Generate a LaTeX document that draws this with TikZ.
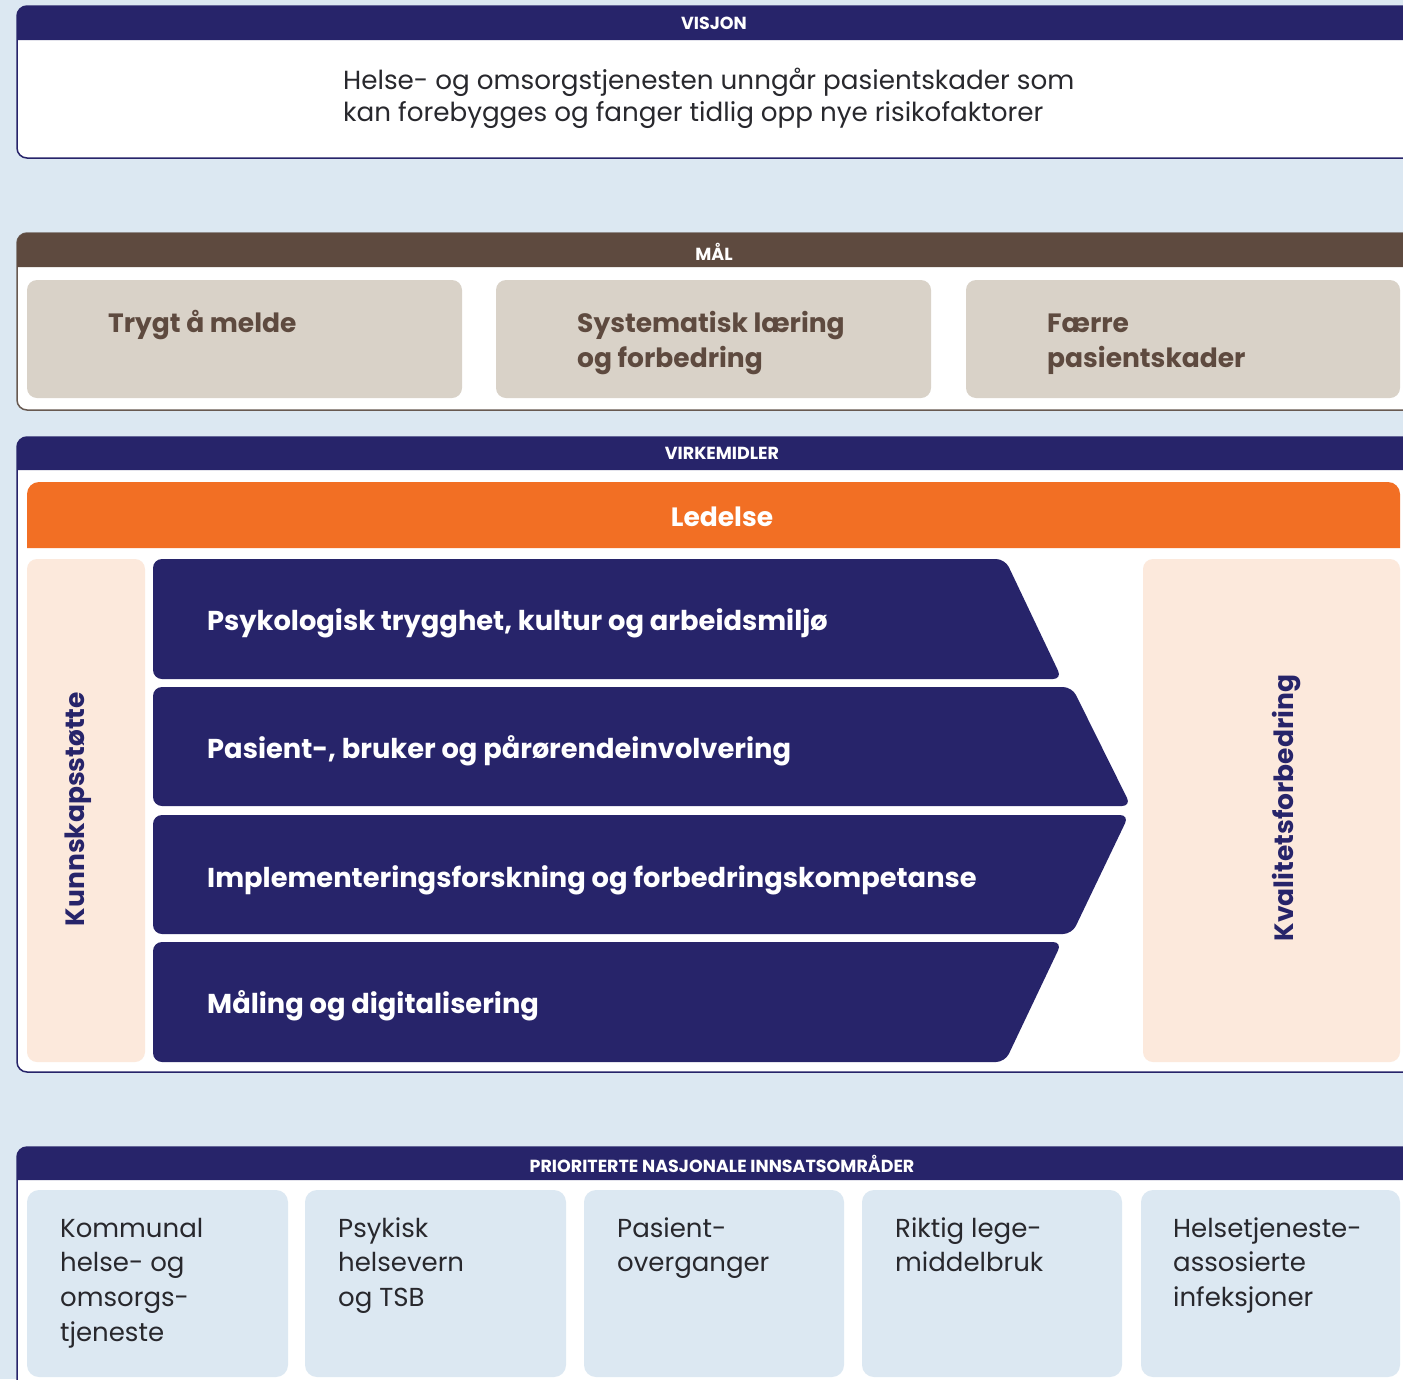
\documentclass[tikz,border=0pt]{standalone}
\usepackage{fontspec}
\setmainfont{Poppins}
\definecolor{bgblue}{RGB}{220,232,242}
\definecolor{navy}{RGB}{39,36,106}
\definecolor{brownhd}{RGB}{94,74,63}
\definecolor{beige}{RGB}{217,210,200}
\definecolor{orangebar}{RGB}{242,111,36}
\definecolor{peach}{RGB}{252,233,220}
\definecolor{bodytext}{RGB}{40,40,45}
\begin{document}
\begin{tikzpicture}[x=1pt,y=-1pt,
  panelbody/.style={fill=white,draw=navy,line width=1.5pt,rounded corners=10pt},
  hdrtext/.style={text=white,font=\fontsize{17.5}{17.5}\selectfont\bfseries,inner sep=0pt},
  maltext/.style={text=brownhd,font=\fontsize{26.5}{26.5}\selectfont\bfseries,anchor=mid west,inner sep=0pt},
  arrowshape/.style={fill=navy,rounded corners=9pt},
  arrowtext/.style={text=white,font=\fontsize{27.3}{27.3}\selectfont\bfseries,anchor=mid west,inner sep=0pt},
  pillartext/.style={text=navy,font=\fontsize{26.5}{26.5}\selectfont\bfseries,rotate=90,inner sep=0pt},
  prtext/.style={text=bodytext,font=\fontsize{26}{26}\selectfont,anchor=mid west,inner sep=0pt},
  vistext/.style={text=bodytext,font=\fontsize{26.2}{26.2}\selectfont,anchor=mid west,inner sep=0pt}]
\useasboundingbox (0,0) rectangle (1403,1379);
\clip (0,0) rectangle (1403,1379);
\fill[bgblue] (0,0) rectangle (1403,1379);

% ---------- VISJON ----------
\draw[panelbody] (17,6) rectangle (1440,158);
\fill[navy] (17,40) [rounded corners=10pt]-- (17,6) -- (1440,6) [sharp corners]-- (1440,40) -- cycle;
\node[hdrtext] (visjonhd) at (714,23) {VISJON};
\node[vistext] (vis1) at (343,87) {Helse- og omsorgstjenesten unngår pasientskader som};
\node[vistext] (vis2) at (343,119) {kan forebygges og fanger tidlig opp nye risikofaktorer};

% ---------- MÅL ----------
\draw[panelbody,draw=brownhd!70!gray] (17,233) rectangle (1440,410);
\fill[brownhd] (17,267) [rounded corners=10pt]-- (17,233) -- (1440,233) [sharp corners]-- (1440,267) -- cycle;
\node[hdrtext] (malhd) at (714,252) {MÅL};
\fill[beige,rounded corners=10pt] (27,280) rectangle (462,398);
\fill[beige,rounded corners=10pt] (496,280) rectangle (931,398);
\fill[beige,rounded corners=10pt] (966,280) rectangle (1400,398);
\node[maltext] (mal1) at (108,330) {Trygt å melde};
\node[maltext] (mal2a) at (577,330) {Systematisk læring};
\node[maltext] (mal2b) at (577,365) {og forbedring};
\node[maltext] (mal3a) at (1047,330) {Færre};
\node[maltext] (mal3b) at (1047,365) {pasientskader};

% ---------- VIRKEMIDLER ----------
\draw[panelbody] (17,437) rectangle (1440,1072);
\fill[navy] (17,470) [rounded corners=10pt]-- (17,437) -- (1440,437) [sharp corners]-- (1440,470) -- cycle;
\node[hdrtext] (virkhd) at (722,453) {VIRKEMIDLER};
\fill[orangebar] (27,548) [rounded corners=12pt]-- (27,482) -- (1400,482) [sharp corners]-- (1400,548) -- cycle;
\node[text=white,font=\fontsize{26.5}{26.5}\selectfont\bfseries,inner sep=0pt] (ledelse) at (722,517) {Ledelse};
\fill[peach,rounded corners=10pt] (27,559) rectangle (145,1062);
\fill[peach,rounded corners=10pt] (1143,559) rectangle (1400,1062);
\node[pillartext] (kunn) at (78,809) {Kunnskapsstøtte};
\node[pillartext] (kval) at (1287,808) {Kvalitetsforbedring};

\fill[arrowshape] (153,559) -- (1005,559) -- (1062,679) -- (153,679) -- cycle;
\fill[arrowshape] (153,687) -- (1072,687) -- (1131,806) -- (153,806) -- cycle;
\fill[arrowshape] (153,815) -- (1129,815) -- (1072,934) -- (153,934) -- cycle;
\fill[arrowshape] (153,942) -- (1062,942) -- (1005,1062) -- (153,1062) -- cycle;
\node[arrowtext] (arr1) at (207,628) {Psykologisk trygghet, kultur og arbeidsmiljø};
\node[arrowtext] (arr2) at (207,756) {Pasient-, bruker og pårørendeinvolvering};
\node[arrowtext] (arr3) at (207,885) {Implementeringsforskning og forbedringskompetanse};
\node[arrowtext] (arr4) at (207,1011) {Måling og digitalisering};

% ---------- PRIORITERTE ----------
\draw[panelbody] (17,1147) rectangle (1440,1440);
\fill[navy] (17,1180) [rounded corners=10pt]-- (17,1147) -- (1440,1147) [sharp corners]-- (1440,1180) -- cycle;
\node[hdrtext] (prhd) at (722,1164) {PRIORITERTE NASJONALE INNSATSOMRÅDER};
\fill[bgblue,rounded corners=12pt] (27,1190) rectangle (288,1377);
\fill[bgblue,rounded corners=12pt] (305,1190) rectangle (566,1377);
\fill[bgblue,rounded corners=12pt] (584,1190) rectangle (844,1377);
\fill[bgblue,rounded corners=12pt] (862,1190) rectangle (1122,1377);
\fill[bgblue,rounded corners=12pt] (1141,1190) rectangle (1400,1377);
\node[prtext] (p1a) at (60,1235) {Kommunal};
\node[prtext] (p1b) at (60,1269) {helse- og};
\node[prtext] (p1c) at (60,1304) {omsorgs-};
\node[prtext] (p1d) at (60,1339) {tjeneste};
\node[prtext] (p2a) at (338,1235) {Psykisk};
\node[prtext] (p2b) at (338,1269) {helsevern};
\node[prtext] (p2c) at (338,1304) {og TSB};
\node[prtext] (p3a) at (617,1235) {Pasient-};
\node[prtext] (p3b) at (617,1269) {overganger};
\node[prtext] (p4a) at (895,1235) {Riktig lege-};
\node[prtext] (p4b) at (895,1269) {middelbruk};
\node[prtext] (p5a) at (1173,1235) {Helsetjeneste-};
\node[prtext] (p5b) at (1173,1269) {assosierte};
\node[prtext] (p5c) at (1173,1304) {infeksjoner};
\end{tikzpicture}
\end{document}
